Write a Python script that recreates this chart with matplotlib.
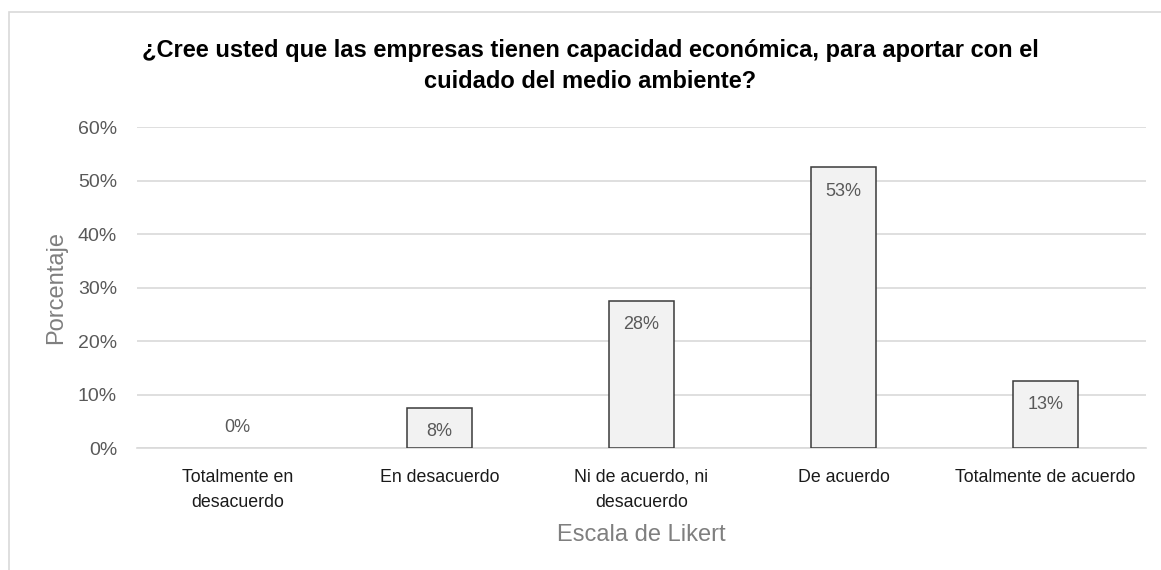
import matplotlib.pyplot as plt
from matplotlib.patches import Rectangle

categories = ["Totalmente en\ndesacuerdo", "En desacuerdo", "Ni de acuerdo, ni\ndesacuerdo",
              "De acuerdo", "Totalmente de acuerdo"]
porcentajes = [0, 7.5, 27.5, 52.5, 12.5]
y_ticks = [0, 10, 20, 30, 40, 50, 60]

plt.rcParams['font.family'] = ['Liberation Sans', 'DejaVu Sans']

fig = plt.figure(figsize=(11.61, 5.70), dpi=100)
ax = fig.add_axes([0.1176, 0.214, 0.8699, 0.563])

# light frame around the whole chart
fig.patches.append(Rectangle((9 / 1161, -0.1), 1.2, 1.1 - 12 / 570, transform=fig.transFigure,
                             fill=False, edgecolor='#d9d9d9', linewidth=1.2))

x = range(len(categories))
# a zero bar has no visible outline
edges = ['#3a3a3a' if v > 0 else 'none' for v in porcentajes]
bars = ax.bar(x, porcentajes, width=0.32, color='#f2f2f2', edgecolor=edges, linewidth=1.1, zorder=3)

# value labels just inside the top of each bar
for i, v in enumerate(porcentajes):
    label = f"{int(v + 0.5)}%"
    if v == 0:
        ax.annotate(label, (i, v), xytext=(0, 9), textcoords='offset points',
                    ha='center', va='bottom', fontsize=13, color='#595959')
    else:
        ax.annotate(label, (i, v), xytext=(0, -11), textcoords='offset points',
                    ha='center', va='top', fontsize=13, color='#595959')

ax.set_xlim(-0.5, len(categories) - 0.5)
ax.set_ylim(0, 60)
ax.set_yticks(y_ticks)
ax.set_yticklabels([f"{t}%" for t in y_ticks])
ax.set_xticks(list(x))
ax.set_xticklabels(categories, linespacing=1.65)

ax.grid(axis='y', color='#d9d9d9', linewidth=1.2, zorder=0)
for side in ['top', 'right', 'left']:
    ax.spines[side].set_visible(False)
ax.spines['bottom'].set_color('#d9d9d9')
ax.spines['bottom'].set_linewidth(1.2)

ax.tick_params(axis='y', length=0, pad=14, labelsize=14, labelcolor='#595959')
ax.tick_params(axis='x', length=0, pad=15, labelsize=12.8, labelcolor='#1a1a1a')

ax.set_xlabel("Escala de Likert", fontsize=17, color='#7f7f7f', labelpad=9)
ax.set_ylabel("Porcentaje", fontsize=17, color='#7f7f7f', labelpad=8)

fig.text(590 / 1161, 1 - 66 / 570,
         "¿Cree usted que las empresas tienen capacidad económica, para aportar con el\ncuidado del medio ambiente?",
         ha='center', va='center', fontsize=17, fontweight='bold', linespacing=1.4)

plt.savefig('out.png', dpi=100)
